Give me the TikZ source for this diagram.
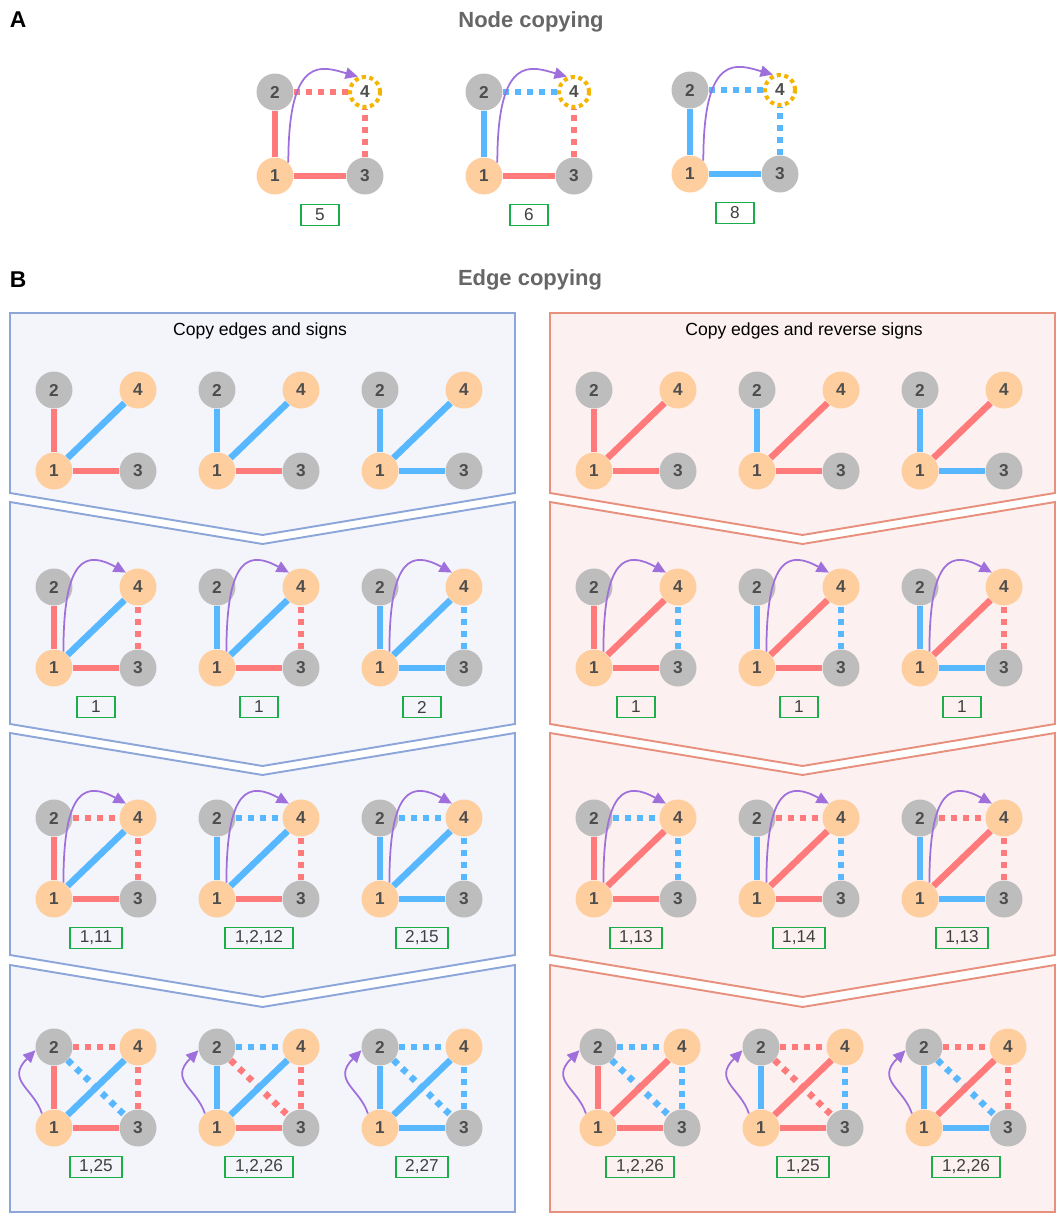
\documentclass[tikz,border=0pt]{standalone}
\usepackage{fontspec}
\setmainfont{Liberation Sans}
\usetikzlibrary{calc}
\usetikzlibrary{arrows.meta}
\usetikzlibrary{positioning}

\definecolor{edgered}{HTML}{FF7A7A}
\definecolor{edgeblue}{HTML}{57B8FF}
\definecolor{vpeach}{HTML}{FFCE9E}
\definecolor{vgrey}{HTML}{BDBDBD}
\definecolor{digitgrey}{HTML}{4D4D4D}
\definecolor{copypurple}{HTML}{9F6FDB}
\definecolor{copyyellow}{HTML}{F4B400}
\definecolor{countgreen}{HTML}{1AAE4B}
\definecolor{boxtext}{HTML}{404040}
\definecolor{headgrey}{HTML}{666666}
\definecolor{panelblueline}{HTML}{8CA6D9}
\definecolor{panelbluefill}{HTML}{F3F5FB}
\definecolor{panelredline}{HTML}{E8907E}
\definecolor{panelredfill}{HTML}{FCF1F0}

\tikzset{
  vertex/.style={circle, inner sep=0pt, minimum size=0.74cm, text=digitgrey,
    font=\fontsize{9.8}{11}\selectfont\bfseries},
  greyv/.style={vertex, fill=vgrey},
  peachv/.style={vertex, fill=vpeach},
  emptyv/.style={vertex, minimum size=0.6cm, draw=copyyellow, line width=2.3pt,
    dash pattern=on 2.3pt off 2pt},
  redline/.style={draw=edgered, line width=3.7pt},
  blueline/.style={draw=edgeblue, line width=3.7pt},
  reddash/.style={redline, dash pattern=on 3.4pt off 3.4pt},
  bluedash/.style={blueline, dash pattern=on 3.4pt off 3.4pt},
  copyarrow/.style={draw=copypurple, line width=1pt, -{Triangle[length=7pt,width=6.5pt]}},
  countbox/.style={draw=countgreen, line width=1.1pt, minimum width=0.76cm,
    minimum height=0.42cm, inner xsep=5.5pt, inner ysep=0pt, text=boxtext,
    font=\fontsize{9.8}{11}\selectfont},
  panelblue/.style={draw=panelblueline, fill=panelbluefill, line width=1.1pt},
  panelred/.style={draw=panelredline, fill=panelredfill, line width=1.1pt},
  heading/.style={text=headgrey, font=\fontsize{12.5}{15}\selectfont\bfseries},
  panelletter/.style={font=\fontsize{13}{15}\selectfont\bfseries},
  subhead/.style={font=\fontsize{10}{12}\selectfont},
}

% graph of four vertices, vertex 2 at (#3,#4)
\def\gw{84}
\def\gh{81}
\newcommand{\signgraph}[4][peachv]{%
  \node[greyv] (#2-2) at (#3,#4) {2};
  \node[#1] (#2-4) at (#3+\gw,#4) {4};
  \node[peachv] (#2-1) at (#3,#4-\gh) {1};
  \node[greyv] (#2-3) at (#3+\gw,#4-\gh) {3};
}
\newcommand{\signedges}[2]{%
  \foreach \kind/\ua/\ub in {#2}
    \draw[\kind] (#1-\ua) -- (#1-\ub);
}
\newcommand{\countlabel}[2]{%
  \node[countbox] (#1-c) at ($(#1-1)!0.5!(#1-3)+(0,-39)$) {#2};
}
\newcommand{\copyfour}[1]{%
  \draw[copyarrow] (#1-1.60) .. controls +(0,95) and +(-40,22) .. (#1-4.130);
}
\newcommand{\copytwo}[1]{%
  \draw[copyarrow] (#1-1.130) .. controls +(-8,25) and +(-30,-30) .. (#1-2.190);
}
% one column of chevron panels
\newcommand{\chevrons}[2]{%
  \begin{scope}[shift={(#1,0)}]
    \draw[#2] (0,-313) -- (505,-313) -- (505,-493) -- (252.5,-535) -- (0,-493) -- cycle;
    \foreach \t/\b in {502/724, 733/955}
      \draw[#2] (0,-\t) -- (252.5,-\t-42) -- (505,-\t) -- (505,-\b) -- (252.5,-\b-42) -- (0,-\b) -- cycle;
    \draw[#2] (0,-965) -- (252.5,-1007) -- (505,-965) -- (505,-1212) -- (0,-1212) -- cycle;
  \end{scope}
}

\begin{document}
\begin{tikzpicture}[x=0.02cm, y=0.02cm]
  \useasboundingbox (0,0) rectangle (1056,-1215);

  % A: node copying
  \node[panelletter] (labA) at (18,-20) {A};
  \node[heading] (titleA) at (531,-22) {Node copying};
  \begin{scope}
    \def\gw{90}
    \def\gh{84}
    \signgraph[emptyv]{a1}{275}{-92}
    \signedges{a1}{redline/1/2, redline/1/3, reddash/2/4, reddash/3/4}
    \draw[copyarrow] (a1-1.45) .. controls +(0,110) and +(-35,10) .. (a1-4.115);
    \countlabel{a1}{5}
    \signgraph[emptyv]{a2}{484}{-92}
    \signedges{a2}{blueline/1/2, redline/1/3, bluedash/2/4, reddash/3/4}
    \draw[copyarrow] (a2-1.45) .. controls +(0,110) and +(-35,10) .. (a2-4.115);
    \countlabel{a2}{6}
    \signgraph[emptyv]{a3}{690}{-90}
    \signedges{a3}{blueline/1/2, blueline/1/3, bluedash/2/4, bluedash/3/4}
    \draw[copyarrow] (a3-1.45) .. controls +(0,110) and +(-35,10) .. (a3-4.115);
    \countlabel{a3}{8}
  \end{scope}

  % B: edge copying
  \node[panelletter] (labB) at (18,-280) {B};
  \node[heading] (titleB) at (530,-280) {Edge copying};
  \chevrons{10}{panelblue}
  \chevrons{550}{panelred}
  \node[subhead] (subL) at (260,-331) {Copy edges and signs};
  \node[subhead] (subR) at (804,-331) {Copy edges and reverse signs};

  % row 1
  \signgraph{l1a}{54}{-390}
  \signedges{l1a}{redline/1/2, blueline/1/4, redline/1/3}
  \signgraph{l1b}{217}{-390}
  \signedges{l1b}{blueline/1/2, blueline/1/4, redline/1/3}
  \signgraph{l1c}{380}{-390}
  \signedges{l1c}{blueline/1/2, blueline/1/4, blueline/1/3}
  \signgraph{r1a}{594}{-390}
  \signedges{r1a}{redline/1/2, redline/1/4, redline/1/3}
  \signgraph{r1b}{757}{-390}
  \signedges{r1b}{blueline/1/2, redline/1/4, redline/1/3}
  \signgraph{r1c}{920}{-390}
  \signedges{r1c}{blueline/1/2, redline/1/4, blueline/1/3}

  % row 2
  \signgraph{l2a}{54}{-587}
  \signedges{l2a}{reddash/3/4, redline/1/2, blueline/1/4, redline/1/3}
  \copyfour{l2a} \countlabel{l2a}{1}
  \signgraph{l2b}{217}{-587}
  \signedges{l2b}{reddash/3/4, blueline/1/2, blueline/1/4, redline/1/3}
  \copyfour{l2b} \countlabel{l2b}{1}
  \signgraph{l2c}{380}{-587}
  \signedges{l2c}{bluedash/3/4, blueline/1/2, blueline/1/4, blueline/1/3}
  \copyfour{l2c} \countlabel{l2c}{2}
  \signgraph{r2a}{594}{-587}
  \signedges{r2a}{bluedash/3/4, redline/1/2, redline/1/4, redline/1/3}
  \copyfour{r2a} \countlabel{r2a}{1}
  \signgraph{r2b}{757}{-587}
  \signedges{r2b}{bluedash/3/4, blueline/1/2, redline/1/4, redline/1/3}
  \copyfour{r2b} \countlabel{r2b}{1}
  \signgraph{r2c}{920}{-587}
  \signedges{r2c}{reddash/3/4, blueline/1/2, redline/1/4, blueline/1/3}
  \copyfour{r2c} \countlabel{r2c}{1}

  % row 3
  \signgraph{l3a}{54}{-818}
  \signedges{l3a}{reddash/2/4, reddash/3/4, redline/1/2, blueline/1/4, redline/1/3}
  \copyfour{l3a} \countlabel{l3a}{1,11}
  \signgraph{l3b}{217}{-818}
  \signedges{l3b}{bluedash/2/4, reddash/3/4, blueline/1/2, blueline/1/4, redline/1/3}
  \copyfour{l3b} \countlabel{l3b}{1,2,12}
  \signgraph{l3c}{380}{-818}
  \signedges{l3c}{bluedash/2/4, bluedash/3/4, blueline/1/2, blueline/1/4, blueline/1/3}
  \copyfour{l3c} \countlabel{l3c}{2,15}
  \signgraph{r3a}{594}{-818}
  \signedges{r3a}{bluedash/2/4, bluedash/3/4, redline/1/2, redline/1/4, redline/1/3}
  \copyfour{r3a} \countlabel{r3a}{1,13}
  \signgraph{r3b}{757}{-818}
  \signedges{r3b}{reddash/2/4, bluedash/3/4, blueline/1/2, redline/1/4, redline/1/3}
  \copyfour{r3b} \countlabel{r3b}{1,14}
  \signgraph{r3c}{920}{-818}
  \signedges{r3c}{reddash/2/4, reddash/3/4, blueline/1/2, redline/1/4, blueline/1/3}
  \copyfour{r3c} \countlabel{r3c}{1,13}

  % row 4
  \signgraph{l4a}{54}{-1047}
  \signedges{l4a}{bluedash/2/3, reddash/2/4, reddash/3/4, redline/1/2, blueline/1/4, redline/1/3}
  \copytwo{l4a} \countlabel{l4a}{1,25}
  \signgraph{l4b}{217}{-1047}
  \signedges{l4b}{reddash/2/3, bluedash/2/4, reddash/3/4, blueline/1/2, blueline/1/4, redline/1/3}
  \copytwo{l4b} \countlabel{l4b}{1,2,26}
  \signgraph{l4c}{380}{-1047}
  \signedges{l4c}{bluedash/2/3, bluedash/2/4, bluedash/3/4, blueline/1/2, blueline/1/4, blueline/1/3}
  \copytwo{l4c} \countlabel{l4c}{2,27}
  \signgraph{r4a}{598}{-1047}
  \signedges{r4a}{bluedash/2/3, bluedash/2/4, bluedash/3/4, redline/1/2, redline/1/4, redline/1/3}
  \copytwo{r4a} \countlabel{r4a}{1,2,26}
  \signgraph{r4b}{761}{-1047}
  \signedges{r4b}{reddash/2/3, reddash/2/4, bluedash/3/4, blueline/1/2, redline/1/4, redline/1/3}
  \copytwo{r4b} \countlabel{r4b}{1,25}
  \signgraph{r4c}{924}{-1047}
  \signedges{r4c}{bluedash/2/3, reddash/2/4, reddash/3/4, blueline/1/2, redline/1/4, blueline/1/3}
  \copytwo{r4c} \countlabel{r4c}{1,2,26}
\end{tikzpicture}
\end{document}
